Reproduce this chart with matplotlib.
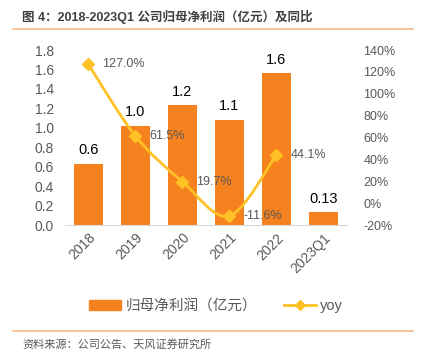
import matplotlib
matplotlib.use("Agg")
import matplotlib.pyplot as plt
from matplotlib.lines import Line2D
from matplotlib.path import Path
from matplotlib.patches import PathPatch

plt.rcParams['font.family'] = ['Liberation Sans', 'Noto Sans CJK SC', 'DejaVu Sans']

categories = ['2018', '2019', '2020', '2021', '2022', '2023Q1']
profit = [0.63, 1.02, 1.23, 1.08, 1.56, 0.13]
profit_labels = ['0.6', '1.0', '1.2', '1.1', '1.6', '0.13']
yoy = [127.0, 61.5, 19.7, -11.6, 44.1]
yoy_labels = ['127.0%', '61.5%', '19.7%', '-11.6%', '44.1%']
left_ticks = [0.0, 0.2, 0.4, 0.6, 0.8, 1.0, 1.2, 1.4, 1.6, 1.8]
right_ticks = [-20, 0, 20, 40, 60, 80, 100, 120, 140]

bar_color = '#F5821F'
line_color = '#FFC125'
text_gray = '#595959'

fig = plt.figure(figsize=(4.24, 3.58), dpi=100)
ax = fig.add_axes([0.153, 0.3715, 0.665, 0.4885])
x = list(range(len(categories)))
ax.bar(x, profit, width=0.63, color=bar_color, zorder=2)
ax.set_xlim(-0.5, len(categories) - 0.5)
ax.set_ylim(0, 1.8)
ax.set_yticks(left_ticks)
ax.set_yticklabels([f'{t:.1f}' for t in left_ticks])
for s in ['top', 'right', 'left']:
    ax.spines[s].set_visible(False)
ax.spines['bottom'].set_color('#D9D9D9')
ax.tick_params(axis='y', length=0, labelsize=10, labelcolor=text_gray, pad=8)
ax.tick_params(axis='x', length=0, labelsize=10, labelcolor=text_gray, pad=4)
ax.set_xticks(x)
ax.set_xticklabels(categories, rotation=45, ha='right', rotation_mode='anchor')
for xi, v, lab in zip(x, profit, profit_labels):
    ax.text(xi, v + 0.07, lab, ha='center', va='bottom', fontsize=10.5, color='black')

ax2 = ax.twinx()
ax2.set_ylim(-20, 140)
ax2.set_yticks(right_ticks)
ax2.set_yticklabels([f'{t}%' for t in right_ticks])
for s in ax2.spines.values():
    s.set_visible(False)
ax2.tick_params(axis='y', length=0, labelsize=9, labelcolor=text_gray, pad=12)

# smoothed line (Catmull-Rom style cubic Bezier through the data points, like Excel)
lx = x[:len(yoy)]
verts = [(lx[0], yoy[0])]
codes = [Path.MOVETO]
n = len(yoy)
t = 1.0 / 6.0
for i in range(n - 1):
    p0 = (lx[max(i - 1, 0)], yoy[max(i - 1, 0)])
    p1 = (lx[i], yoy[i])
    p2 = (lx[i + 1], yoy[i + 1])
    p3 = (lx[min(i + 2, n - 1)], yoy[min(i + 2, n - 1)])
    c1 = (p1[0] + (p2[0] - p0[0]) * t, p1[1] + (p2[1] - p0[1]) * t)
    c2 = (p2[0] - (p3[0] - p1[0]) * t, p2[1] - (p3[1] - p1[1]) * t)
    verts += [c1, c2, p2]
    codes += [Path.CURVE4] * 3
ax2.add_patch(PathPatch(Path(verts, codes), facecolor='none', edgecolor=line_color, lw=2, zorder=3))
ax2.plot(lx, yoy, linestyle='none', color=line_color, marker='D', ms=6, zorder=4)
for xi, v, lab in zip(lx, yoy, yoy_labels):
    ax2.text(xi + 0.3, v, lab, ha='left', va='center', fontsize=9, color=text_gray)

# legend
handles = [plt.Rectangle((0, 0), 1, 1, color=bar_color),
           Line2D([0], [0], color=line_color, lw=2, marker='D', ms=5)]
fig.legend(handles, ['归母净利润（亿元）', 'yoy'], loc='center', bbox_to_anchor=(0.51, 0.145),
           ncol=2, frameon=False, fontsize=10.5, labelcolor=text_gray, handlelength=2.2,
           handletextpad=0.3, columnspacing=1.8)

# title and rules
fig.text(22/424, 1 - 17/358, '图 4：2018-2023Q1 公司归母净利润（亿元）及同比', fontsize=9,
         fontweight='bold', color='#404040', va='center', ha='left')
fig.add_artist(Line2D([13/424, 413/424], [1 - 29/358, 1 - 29/358], color='#F9B98A', lw=1.2))
fig.add_artist(Line2D([13/424, 413/424], [1 - 331/358, 1 - 331/358], color='#F9B98A', lw=1.2))
fig.text(22/424, 1 - 344/358, '资料来源：公司公告、天风证券研究所', fontsize=8,
         color='#595959', va='center', ha='left')

fig.savefig('out.png', dpi=100)
